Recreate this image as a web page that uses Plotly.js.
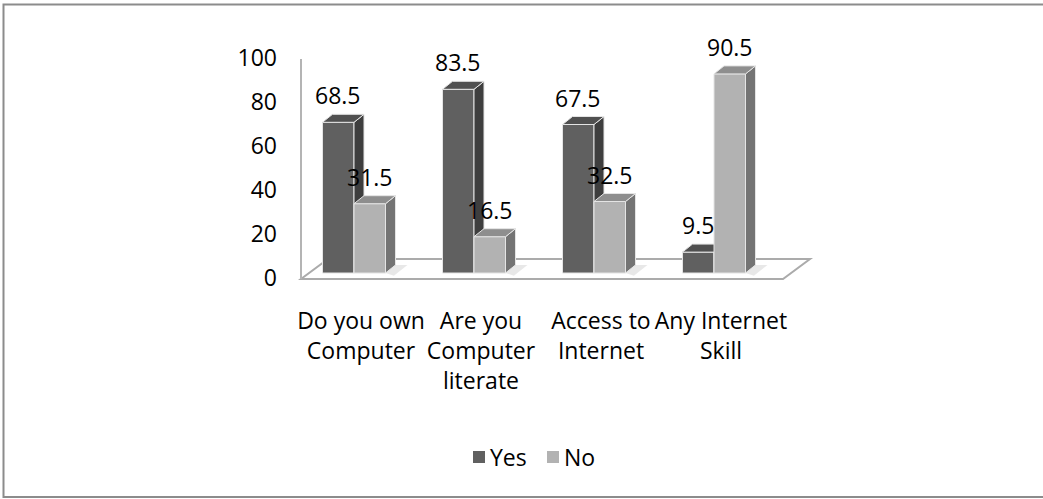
<!DOCTYPE html>
<html>
<head>
<meta charset="utf-8">
<script src="https://cdn.plot.ly/plotly-3.0.1.min.js"></script>
<style>
  html, body { margin: 0; padding: 0; background: #ffffff; }
  #chart { width: 1043px; height: 499px; }
</style>
</head>
<body>
<div id="chart"></div>
<script>
// Survey answers (percent of respondents)
const categories = ['Do you own<br>Computer', 'Are you<br>Computer<br>literate', 'Access to<br>Internet', 'Any Internet<br>Skill'];
const yesValues = [68.5, 83.5, 67.5, 9.5];
const noValues = [31.5, 16.5, 32.5, 90.5];
const seriesNames = ['Yes', 'No'];
const yTickValues = [0, 20, 40, 60, 80, 100];

// Layout geometry (pixels)
const W = 1043, H = 499;
const M = { l: 290, r: 213, t: 40, b: 199 };
const plotW = W - M.l - M.r;     // 540
const plotH = H - M.t - M.b;     // 260
const PX = 120;                  // pixels per category
const PY = 2.2;                  // pixels per percent
const xRange = [-64 / PX, -64 / PX + plotW / PX];
const yRange = [-27 / PY, -27 / PY + plotH / PY];

// Column sizing and 3-D depth offsets
const barW = 31.5 / PX;
const depthX = 10 / PX;
const depthY = 8 / PY;

const FONT = '"Open Sans", "Liberation Sans", sans-serif';
const FS = 23;
const COLORS = {
  Yes: { front: '#606060', side: '#3e3e3e', top: '#505050' },
  No:  { front: '#b2b2b2', side: '#747474', top: '#8e8e8e' }
};
const EDGE = '#e4e4e4';

function faceTraces(values, offset, colors, xa, ya) {
  const traces = [];
  values.forEach((v, k) => {
    const x0 = k + offset, x1 = x0 + barW;
    traces.push({
      type: 'scatter', mode: 'lines', fill: 'toself', xaxis: xa, yaxis: ya,
      x: [x1, x1 + depthX, x1 + depthX, x1, x1],
      y: [0, depthY, v + depthY, v, 0],
      fillcolor: colors.side, line: { color: EDGE, width: 1 },
      showlegend: false, hoverinfo: 'skip'
    });
    traces.push({
      type: 'scatter', mode: 'lines', fill: 'toself', xaxis: xa, yaxis: ya,
      x: [x0, x0 + depthX, x1 + depthX, x1, x0],
      y: [v, v + depthY, v + depthY, v, v],
      fillcolor: colors.top, line: { color: EDGE, width: 1 },
      showlegend: false, hoverinfo: 'skip'
    });
  });
  return traces;
}

const idx = categories.map((c, i) => i);

const yesBar = {
  type: 'bar', name: seriesNames[0], x: idx, y: yesValues,
  width: barW, offset: -barW, xaxis: 'x', yaxis: 'y',
  marker: { color: COLORS.Yes.front, line: { color: EDGE, width: 1 } },
  hoverinfo: 'skip', showlegend: false
};
const noBar = {
  type: 'bar', name: seriesNames[1], x: idx, y: noValues,
  width: barW, offset: 0, xaxis: 'x2', yaxis: 'y2',
  marker: { color: COLORS.No.front, line: { color: EDGE, width: 1 } },
  hoverinfo: 'skip', showlegend: false
};

const data = [yesBar]
  .concat(faceTraces(yesValues, -barW, COLORS.Yes, 'x', 'y'))
  .concat([noBar])
  .concat(faceTraces(noValues, 0, COLORS.No, 'x2', 'y2'));

// Value labels above each column
const annotations = [];
[[yesValues, -barW], [noValues, 0]].forEach(([vals, off]) => {
  vals.forEach((v, k) => {
    annotations.push({
      x: k + off + barW / 2, y: v, xref: 'x', yref: 'y',
      text: String(v), showarrow: false, yshift: 27,
      font: { family: FONT, size: FS, color: '#000000' }
    });
  });
});

const px2fx = p => (p - M.l) / plotW;
const py2fy = p => (H - M.b - p) / plotH;

// Floor and wall edge
const floorFront = -6 / PY, floorBack = 14 / PY;
const fl = { fx0: -53 / PX, fx1: 429 / PX, bx0: -26 / PX, bx1: 456 / PX };

const shapes = [
  {
    type: 'path', xref: 'x', yref: 'y', layer: 'below',
    path: `M${fl.fx0},${floorFront} L${fl.fx1},${floorFront} L${fl.bx1},${floorBack} L${fl.bx0},${floorBack} Z`,
    fillcolor: '#ffffff', line: { color: '#ababab', width: 2 }
  },
  {
    type: 'line', xref: 'x', yref: 'y', layer: 'below',
    x0: fl.fx0, x1: fl.fx0, y0: floorFront, y1: floorFront + 100,
    line: { color: '#b4b4b4', width: 2 }
  },
  {
    type: 'rect', xref: 'paper', yref: 'paper', layer: 'above',
    x0: px2fx(3.5), x1: px2fx(1060), y0: py2fy(4.5), y1: py2fy(497),
    line: { color: '#8c8c8c', width: 2 }, fillcolor: 'rgba(0,0,0,0)'
  }
];

// Soft floor shadow to the right of each column pair
noValues.forEach((v, k) => {
  const x1 = k + barW;
  shapes.push({
    type: 'path', xref: 'x', yref: 'y', layer: 'below',
    path: `M${x1},0 L${x1 + depthX},${depthY} L${x1 + depthX + 0.1},${depthY} L${x1 + 0.07},${-1.2} Z`,
    fillcolor: 'rgba(0,0,0,0.09)', line: { width: 0 }
  });
});

// Legend: swatch + label per series
const legendItems = [
  { name: seriesNames[0], color: COLORS.Yes.front, sx: 473, tx: 488 },
  { name: seriesNames[1], color: COLORS.No.front, sx: 547, tx: 562 }
];
legendItems.forEach(it => {
  shapes.push({
    type: 'rect', xref: 'paper', yref: 'paper', layer: 'above',
    x0: px2fx(it.sx), x1: px2fx(it.sx + 12), y0: py2fy(463), y1: py2fy(451),
    fillcolor: it.color, line: { width: 0 }
  });
  annotations.push({
    xref: 'paper', yref: 'paper', x: px2fx(it.tx), y: py2fy(457),
    xanchor: 'left', yanchor: 'middle', showarrow: false, text: it.name,
    font: { family: FONT, size: FS, color: '#000000' }
  });
});

const layout = {
  width: W, height: H,
  margin: M,
  paper_bgcolor: '#ffffff', plot_bgcolor: 'rgba(0,0,0,0)',
  font: { family: FONT, size: FS, color: '#000000' },
  showlegend: false,
  xaxis: {
    range: xRange, fixedrange: true, showgrid: false, zeroline: false, showline: false,
    tickmode: 'array', tickvals: idx, ticktext: categories, ticks: '', tickangle: 0,
    ticklabelshift: 7, ticklabelstandoff: 5,
    tickfont: { family: FONT, size: FS, color: '#000000' }
  },
  yaxis: {
    range: yRange, fixedrange: true, showgrid: false, zeroline: false, showline: false,
    tickmode: 'array', tickvals: yTickValues, ticks: '',
    ticklabelshift: 5, ticklabelstandoff: 12,
    tickfont: { family: FONT, size: FS, color: '#000000' }
  },
  xaxis2: { overlaying: 'x', matches: 'x', visible: false, range: xRange },
  yaxis2: { overlaying: 'y', matches: 'y', visible: false, range: yRange },
  shapes: shapes,
  annotations: annotations
};

Plotly.newPlot('chart', data, layout, { displayModeBar: false, staticPlot: true });
</script>
</body>
</html>
